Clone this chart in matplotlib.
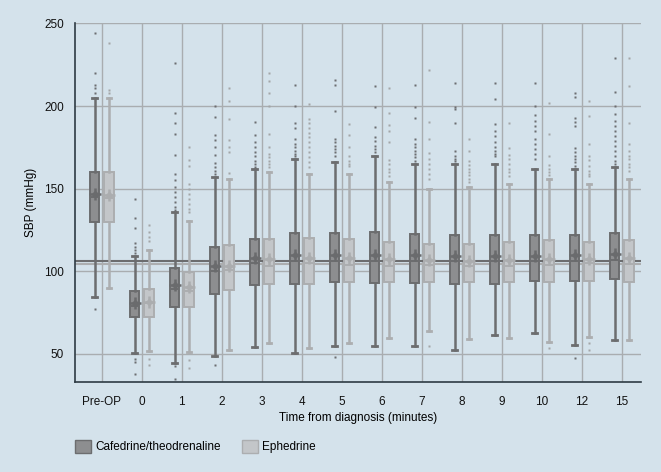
import numpy as np
import matplotlib
matplotlib.use('Agg')
import matplotlib.pyplot as plt
from matplotlib.patches import Patch

plt.rcParams['font.family'] = ['Liberation Sans', 'DejaVu Sans']

BG = '#d4e2eb'
C_DARK_FILL = '#8d8e90'
C_DARK_EDGE = '#6c6d6f'
C_LIGHT_FILL = '#c3c6c9'
C_LIGHT_EDGE = '#acaeb0'
C_GRID = '#a9adb0'

categories = ['Pre-OP', '0', '1', '2', '3', '4', '5', '6', '7', '8', '9', '10', '12', '15']

# Cafedrine/theodrenaline
caf_q1 = [129.6, 72.3, 78.3, 86.4, 91.6, 92.4, 93.4, 93.0, 93.0, 92.4, 92.4, 94.4, 94.4, 95.6]
caf_med = [145.0, 79.0, 89.0, 100.0, 105.0, 106.0, 106.5, 106.0, 106.5, 106.5, 106.0, 106.5, 106.5, 107.0]
caf_q3 = [160.0, 87.8, 101.9, 114.5, 119.8, 123.0, 123.0, 124.0, 122.6, 121.8, 121.8, 121.8, 121.8, 123.0]
caf_lo = [84.5, 50.7, 44.3, 48.7, 54.0, 50.7, 54.7, 54.7, 54.7, 52.3, 61.4, 62.8, 55.4, 58.4]
caf_hi = [205.0, 109.5, 135.7, 157.0, 161.8, 168.0, 166.0, 169.5, 165.0, 165.0, 165.0, 162.0, 162.0, 163.0]
caf_mean = [147.0, 80.7, 91.6, 103.0, 108.0, 109.7, 110.0, 109.7, 109.7, 109.3, 109.3, 109.3, 109.7, 110.7]
caf_fliers = [
    [244, 220, 213, 211, 208, 77],
    [144, 132, 126, 117, 115, 113, 111, 46.7, 45, 38],
    [226, 196, 190, 183, 170.5, 159, 155, 151, 148, 145, 142, 139, 137, 42.7, 35],
    [200, 193.5, 182.5, 179.5, 175.5, 170.5, 165.5, 163, 161, 159, 43.3],
    [190.5, 182.5, 178, 175, 172, 170, 167, 165, 163],
    [213, 200, 190, 186.5, 180, 177, 175, 173, 171, 169.5],
    [216, 213, 197, 180, 178, 176, 174, 172, 170, 48.3],
    [212, 199.7, 187.6, 181.5, 179, 176, 174, 172],
    [213, 199.7, 193, 180, 177, 175, 173, 171, 169, 167],
    [214, 199.5, 198.5, 189.6, 173, 170, 168, 166.5],
    [214, 204, 189, 185, 181.6, 178, 175, 173, 171, 169.5],
    [214, 200, 194.6, 191, 188, 185, 180, 177, 174, 171, 168],
    [208, 205.7, 193, 190.6, 188, 174.5, 172, 170, 168, 166, 164, 47.3],
    [229, 208.3, 200, 195, 191, 188, 185, 182, 179, 176, 173, 170, 167, 165],
]

# Ephedrine
eph_q1 = [129.6, 72.3, 78.3, 88.4, 92.4, 92.4, 93.4, 93.4, 93.4, 93.4, 93.4, 93.4, 94.0, 93.4]
eph_med = [144.3, 81.0, 88.0, 100.6, 103.5, 105.0, 104.0, 103.5, 104.0, 103.5, 103.0, 104.0, 105.0, 104.7]
eph_q3 = [160.0, 89.0, 99.6, 115.7, 119.8, 120.2, 119.8, 118.0, 116.8, 116.8, 118.0, 119.2, 118.0, 119.2]
eph_lo = [89.8, 51.5, 51.3, 52.3, 56.8, 53.3, 56.8, 59.8, 63.8, 59.2, 59.4, 57.4, 60.4, 58.4]
eph_hi = [205.0, 112.7, 130.6, 155.8, 160.4, 158.8, 158.8, 153.8, 150.0, 150.8, 153.0, 155.8, 153.0, 155.8]
eph_mean = [146.0, 81.3, 90.4, 103.0, 107.5, 108.0, 108.0, 107.5, 107.0, 106.0, 106.7, 107.3, 107.5, 108.2]
eph_fliers = [
    [238, 210, 208],
    [128, 123.5, 121, 118.5, 47, 43.5],
    [175.5, 167.5, 164, 153, 150, 147, 144, 141, 138, 136, 46.3, 41.7],
    [210.7, 203, 192, 179.5, 175.5, 172, 159.5],
    [220, 215, 208, 200, 183, 175.5, 171, 169, 167, 165, 163],
    [201, 192, 190, 187, 184, 181, 178, 175, 172, 169, 166, 163],
    [189, 182.6, 175, 169.5, 167, 165, 163.5],
    [210.7, 195.6, 188.3, 185.2, 178, 167.5, 165, 162, 160, 157.6],
    [222, 190.6, 180, 171.7, 168, 165, 162, 159, 156, 55],
    [180, 173, 167, 164.5, 162, 160, 158, 156, 154],
    [190, 174.5, 170.5, 168, 165, 162, 160, 157.5],
    [202, 183, 169.5, 164.5, 162, 160, 158.5, 53.3],
    [203, 194, 177, 169.5, 167.5, 164, 161, 159, 157.5, 56.8, 52.3],
    [229, 212.4, 190, 177, 173, 170, 168, 165, 163, 161],
]

# overall means (reference lines)
caf_overall = 106.3
eph_overall = 104.5


def make_stats(q1, med, q3, lo, hi, mean, fliers):
    return [dict(q1=a, med=b, q3=c, whislo=d, whishi=e, mean=f, fliers=g)
            for a, b, c, d, e, f, g in zip(q1, med, q3, lo, hi, mean, fliers)]


def draw_group(ax, stats, pos, fill, edge, mean_col, flier_col):
    ax.bxp(stats, positions=pos, widths=0.24, capwidths=0.12, patch_artist=True,
           showmeans=False, manage_ticks=False,
           boxprops=dict(facecolor=fill, edgecolor=edge, linewidth=1.4),
           medianprops=dict(color=edge, linewidth=1.4),
           whiskerprops=dict(color=edge, linewidth=1.8),
           capprops=dict(color=edge, linewidth=2.0),
           flierprops=dict(marker='s', markersize=1.5, markerfacecolor=flier_col,
                           markeredgecolor='none'), zorder=3)
    means = [s['mean'] for s in stats]
    ax.plot(pos, means, 'D', ms=4.5, color=mean_col, mec='none', zorder=5)
    ax.plot(pos, means, '+', ms=8, mew=1.8, color=mean_col, zorder=5)


fig = plt.figure(figsize=(6.61, 4.72), dpi=100, facecolor=BG)
ax = fig.add_axes([0.1135, 0.1907, 0.8562, 0.7606])
ax.set_facecolor(BG)

x = np.arange(len(categories))
ax.axhline(caf_overall, color=C_DARK_EDGE, lw=1.5, zorder=2)
ax.axhline(eph_overall, color=C_LIGHT_EDGE, lw=1.5, zorder=2)

draw_group(ax, make_stats(caf_q1, caf_med, caf_q3, caf_lo, caf_hi, caf_mean, caf_fliers),
           x - 0.18, C_DARK_FILL, C_DARK_EDGE, '#6a6b6d', '#6c6d70')
draw_group(ax, make_stats(eph_q1, eph_med, eph_q3, eph_lo, eph_hi, eph_mean, eph_fliers),
           x + 0.18, C_LIGHT_FILL, C_LIGHT_EDGE, '#abadaf', '#a3a5a7')

ax.set_xlim(-0.667, 13.48)
ax.set_ylim(33, 250.3)
ax.set_yticks([50, 100, 150, 200, 250])
ax.set_xticks(x)
ax.set_xticklabels(categories)
ax.grid(True, color=C_GRID, lw=1.0, zorder=0)
ax.set_axisbelow(True)
for s in ['top', 'right']:
    ax.spines[s].set_visible(False)
for s in ['left', 'bottom']:
    ax.spines[s].set_color('#2e3b44')
    ax.spines[s].set_linewidth(1.2)
ax.tick_params(length=0, labelsize=8.5, colors='#111111')
ax.tick_params(axis='x', pad=10)
ax.tick_params(axis='y', pad=8)
ax.set_ylabel('SBP (mmHg)', fontsize=8.5, labelpad=5)
ax.set_xlabel('Time from diagnosis (minutes)', fontsize=8.5, labelpad=3)

handles = [Patch(facecolor=C_DARK_FILL, edgecolor=C_DARK_EDGE, label='Cafedrine/theodrenaline'),
           Patch(facecolor=C_LIGHT_FILL, edgecolor=C_LIGHT_EDGE, label='Ephedrine')]
fig.legend(handles=handles, loc='lower left', bbox_to_anchor=(0.098, 0.017), ncol=2,
           frameon=False, fontsize=8.5, handlelength=1.3, handleheight=1.3,
           handletextpad=0.4, columnspacing=1.8)

fig.savefig('out.png', dpi=100, facecolor=BG)
